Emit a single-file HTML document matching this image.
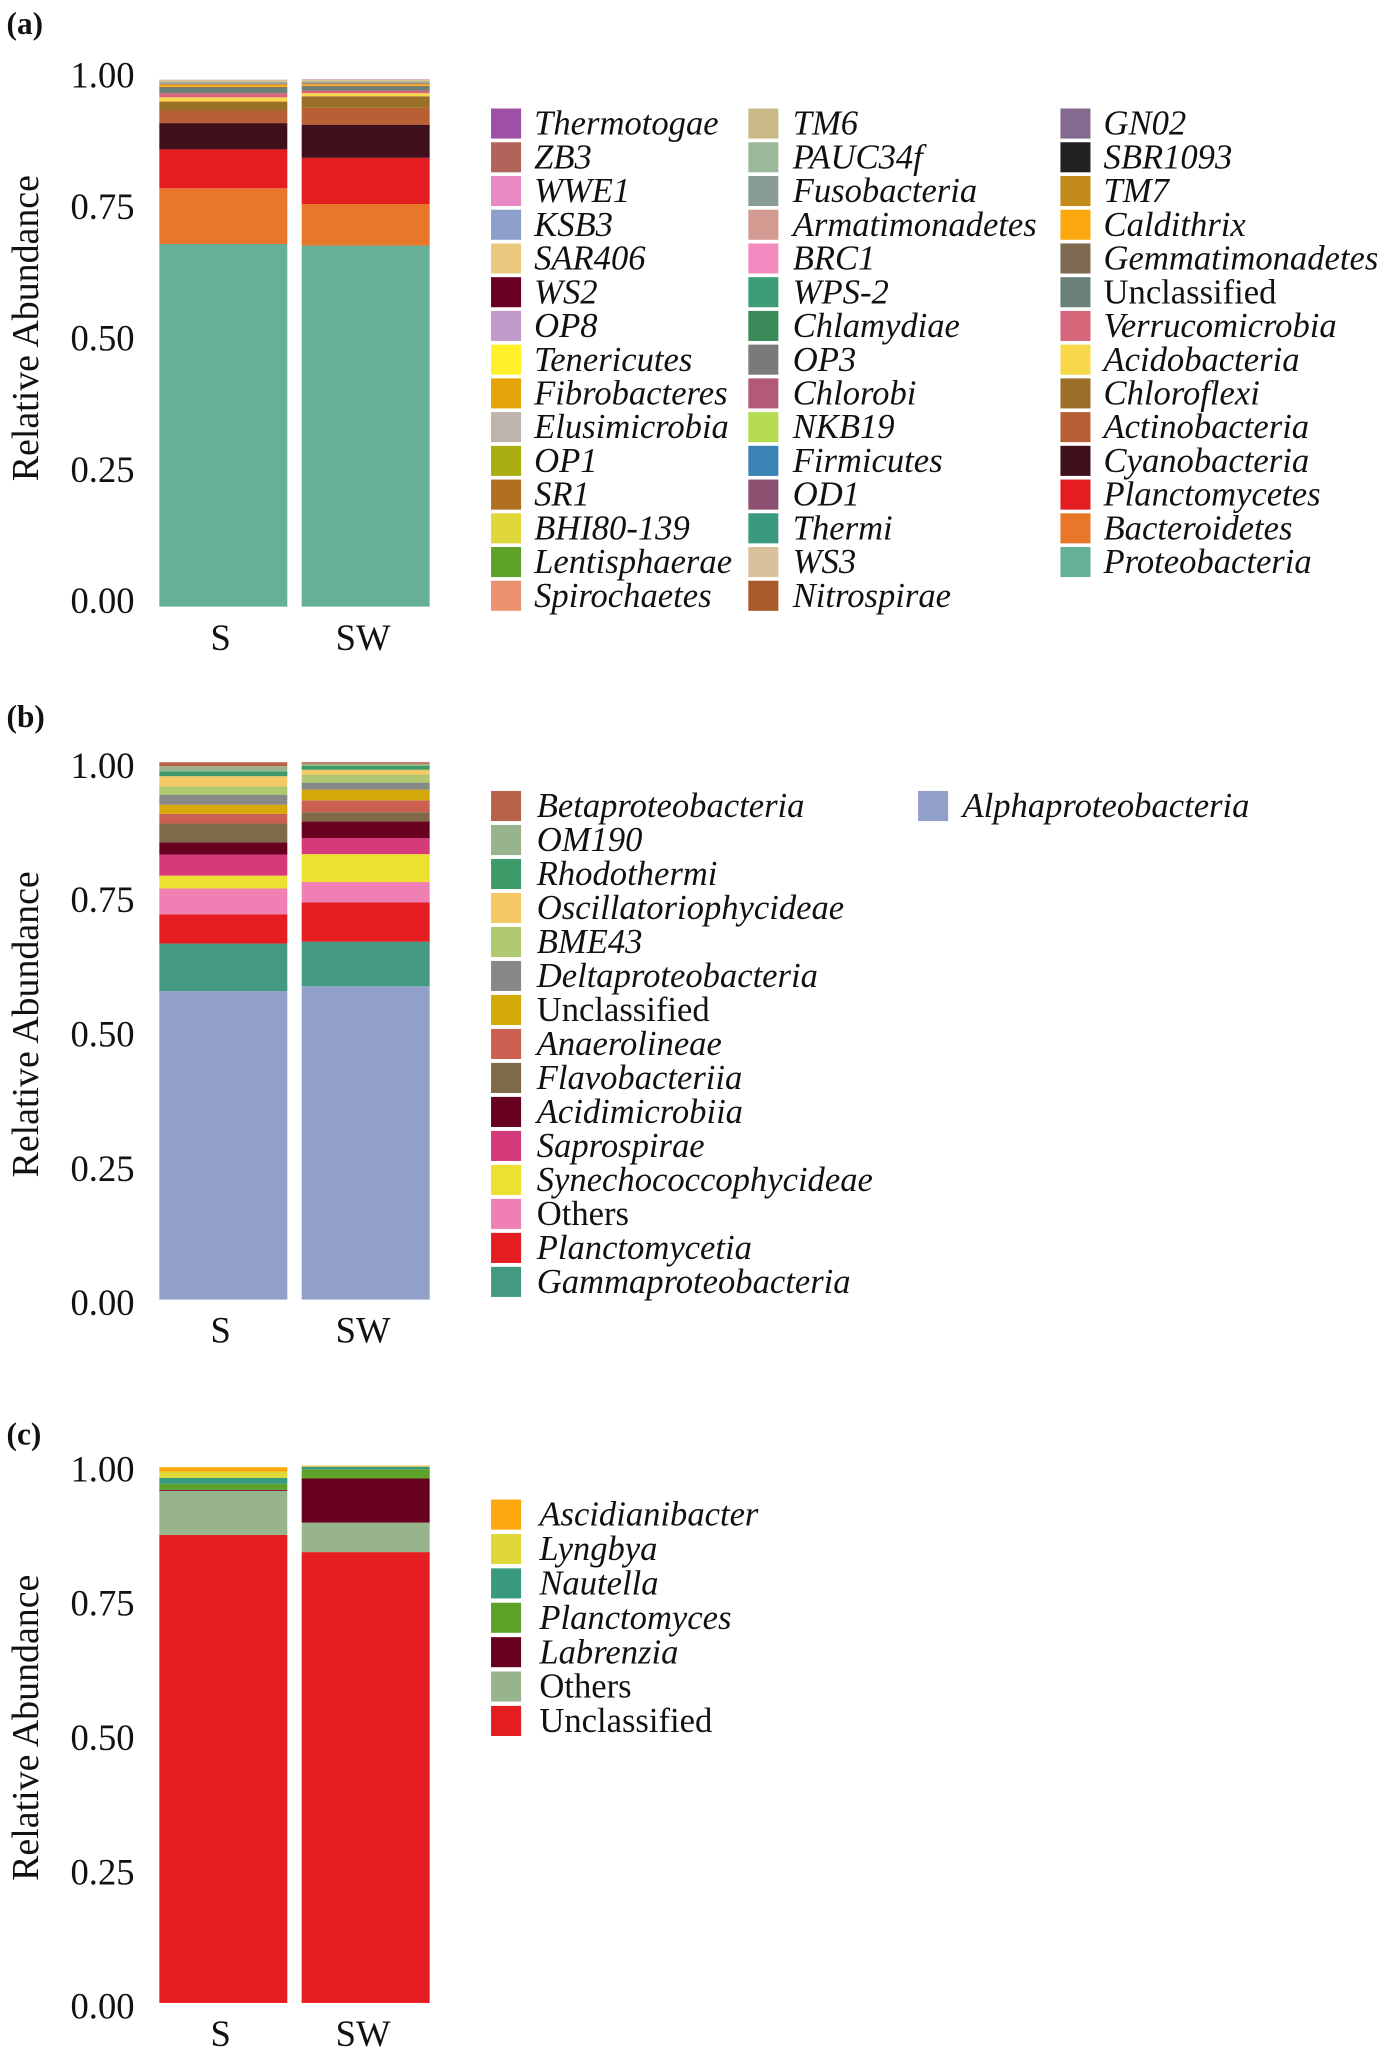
<!DOCTYPE html>
<html><head><meta charset="utf-8"><style>
html,body{margin:0;padding:0;background:#fff}
svg{display:block}
text{font-family:"Liberation Serif",serif;fill:#111}
</style></head><body>
<svg id="fig" width="1400" height="2050" viewBox="0 0 1072 1568" preserveAspectRatio="none" xmlns="http://www.w3.org/2000/svg"></svg>
<script>
const samples = ["S","SW"];
// Panel (a): phylum level, stack order bottom-up
const aTaxa = ["Proteobacteria","Bacteroidetes","Planctomycetes","Cyanobacteria","Actinobacteria","Chloroflexi","Acidobacteria","Verrucomicrobia","Unclassified","Gemmatimonadetes","Caldithrix","TM7","SBR1093","GN02","Nitrospirae","WS3","Thermi","OD1","Firmicutes","NKB19","Chlorobi","OP3","Chlamydiae","WPS-2","BRC1","Armatimonadetes","Fusobacteria","PAUC34f","TM6","Spirochaetes","Lentisphaerae","BHI80-139","SR1","OP1","Elusimicrobia","Fibrobacteres","Tenericutes","OP8","WS2","SAR406","KSB3","WWE1","ZB3","Thermotogae"];
const aColors = ["#66af98","#e9772a","#e41d20","#3f0f1c","#b95f36","#9a7028","#f8d84a","#d6667a","#6a8078","#7e6a50","#fca80e","#c18a1a","#222222","#846a8e","#a85a2a","#d8c09a","#3a9a80","#8b5070","#3a83b5","#b5dc50","#b35a7a","#7a7a7a","#3a8a5a","#3e9d78","#f28cc0","#d39a92","#8a9c96","#9cb89a","#c8b987","#ea9270","#5fa22a","#e0d83a","#b07020","#a8ad10","#bdb5ad","#e5a50a","#fff02a","#c09bc9","#6a0023","#e9c97e","#8da0cb","#e78ac3","#b0645a","#9e4fa6"];
const aS  = [0.690,0.106,0.074,0.050,0.024,0.017,0.008,0.008,0.010,0.002,0.004,0.001,0.0005,0.0005,0.0005,0.0003,0.0003,0.0003,0.0003,0.0003,0.0003,0.0003,0.0003,0.0003,0.0003,0.0003,0.0002,0.0002,0.0002,0.0002,0.0002,0.0002,0.0002,0.0002,0.0002,0.0002,0.0002,0.0002,0.0002,0.0002,0.0002,0.0002,0.0002,0.0002];
const aSW = [0.687,0.079,0.088,0.063,0.032,0.022,0.006,0.005,0.007,0.002,0.003,0.001,0.0005,0.0005,0.0005,0.0003,0.0003,0.0003,0.0003,0.0003,0.0003,0.0003,0.0003,0.0003,0.0003,0.0003,0.0002,0.0002,0.0002,0.0002,0.0002,0.0002,0.0002,0.0002,0.0002,0.0002,0.0002,0.0002,0.0002,0.0002,0.0002,0.0002,0.0002,0.0002];
// Panel (b): class level
const bTaxa = ["Alphaproteobacteria","Gammaproteobacteria","Planctomycetia","Others","Synechococcophycideae","Saprospirae","Acidimicrobiia","Flavobacteriia","Anaerolineae","Unclassified","Deltaproteobacteria","BME43","Oscillatoriophycideae","Rhodothermi","OM190","Betaproteobacteria"];
const bColors = ["#919fc9","#449a80","#e41d20","#f080b4","#ede030","#d43a7a","#680020","#7f6a48","#cc6050","#d4a90a","#888888","#b0c870","#f5c866","#3f9a6a","#98b48e","#b8624a"];
const bS  = [0.574,0.0885,0.0545,0.048,0.024,0.039,0.023,0.035,0.018,0.017,0.018,0.016,0.019,0.009,0.0096,0.0074];
const bSW = [0.583,0.083,0.073,0.038,0.052,0.030,0.031,0.017,0.022,0.020,0.013,0.015,0.009,0.007,0.004,0.003];
// Panel (c): genus level
const cTaxa = ["Unclassified","Others","Labrenzia","Planctomyces","Nautella","Lyngbya","Ascidianibacter"];
const cColors = ["#e41d20","#98b48e","#680020","#5fa22a","#3a9a80","#e0d83a","#fca80e"];
const cS  = [0.871,0.082,0.002,0.011,0.011,0.012,0.008];
const cSW = [0.839,0.055,0.082,0.017,0.005,0.001,0.001];
const yTicks = [0,0.25,0.5,0.75,1];
const yTickLabels = ["0.00","0.25","0.50","0.75","1.00"];

const NS = "http://www.w3.org/2000/svg";
const svg = document.getElementById("fig");
function mk(tag, attrs, parent){
  const e = document.createElementNS(NS, tag);
  for (const k in attrs) e.setAttribute(k, attrs[k]);
  (parent||svg).appendChild(e);
  return e;
}
const barX = [122, 231], barW = 98;
const italicOff = {"Unclassified":1,"Others":1};

function panel(key, label, labelY, top, bottom, tickOff, taxa, colors, series, legendCols){
  const g = mk("g", {});
  
  
  const yScale = v => bottom - v * (bottom - top);
  const t = mk("text", {x:5, y:labelY, "font-size":24, "font-weight":"bold"}, g);
  t.textContent = label;
  
  
  const yt = mk("text", {x:0, y:0, "font-size":29, "text-anchor":"middle", transform:"translate(29," + ((top+bottom)/2 - 12 + tickOff - 5) + ") rotate(-90)"}, g);
  yt.textContent = "Relative Abundance";
  
  
  yTicks.forEach((v,i)=>{
    const tl = mk("text", {x:103, y:yScale(v)+tickOff, "font-size":28, "text-anchor":"end"}, g);
    tl.textContent = yTickLabels[i];
    
    
  });
  series.forEach((vals, si)=>{
    let cum = 0;
    vals.forEach((v, ti)=>{
      const y1 = yScale(cum + v), y0 = yScale(cum);
      const r = mk("rect", {x:barX[si], y:y1, width:barW, height:Math.max(0, y0-y1), fill:colors[ti]}, g);
      
      
      cum += v;
    });
    const xl = mk("text", {x:barX[si]+barW/2 - 2, y:bottom+33, "font-size":28, "text-anchor":"middle"}, g);
    xl.textContent = samples[si];
    
    
  });
  legendCols.forEach(col=>{
    col.items.forEach((idx, r)=>{
      const y = col.y0 + r * col.dy;
      const sw = mk("rect", {x:col.sx, y:y-11, width:23, height:23, fill:colors[idx]}, g);
      
      
      const lt = mk("text", {x:col.tx, y:y+9, "font-size":col.fs, "font-style": italicOff[taxa[idx]] ? "normal" : "italic"}, g);
      lt.textContent = taxa[idx];
      
      
    });
  });
}
function rev(from, count){ const a=[]; for(let i=0;i<count;i++) a.push(from - i); return a; }
const aOrder = rev(aTaxa.length-1, aTaxa.length);
panel("a","(a)",26,62,464,5,aTaxa,aColors,[aS,aSW],[
  {sx:376, tx:409, y0:94, dy:25.8, fs:26.5, items:aOrder.slice(0,15)},
  {sx:573, tx:607, y0:94, dy:25.8, fs:26.5, items:aOrder.slice(15,30)},
  {sx:812, tx:845, y0:94, dy:25.8, fs:26.5, items:aOrder.slice(30)}
]);
const bOrder = rev(bTaxa.length-1, bTaxa.length);
panel("b","(b)",556,583,994,12,bTaxa,bColors,[bS,bSW],[
  {sx:376, tx:411, y0:616, dy:26, fs:26.5, items:bOrder.slice(0,15)},
  {sx:703, tx:737, y0:616, dy:26, fs:26.5, items:[0]}
]);
const cOrder = rev(cTaxa.length-1, cTaxa.length);
panel("c","(c)",1105,1121,1532,12,cTaxa,cColors,[cS,cSW],[
  {sx:376, tx:413, y0:1158, dy:26.3, fs:26.5, items:cOrder}
]);
</script>
</body></html>
